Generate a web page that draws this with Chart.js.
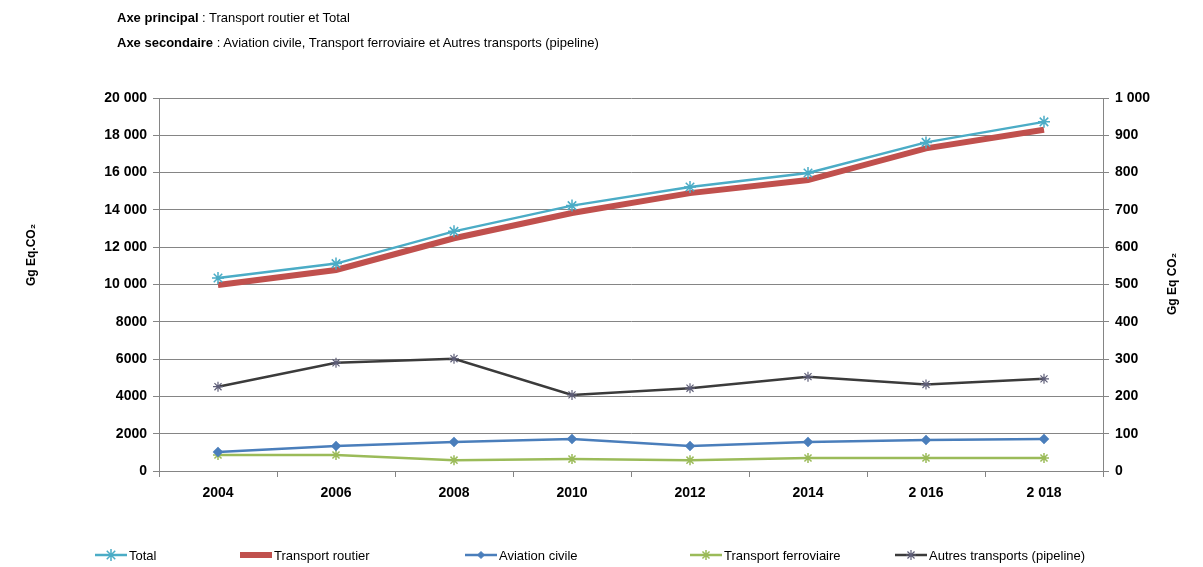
<!DOCTYPE html>
<html>
<head>
<meta charset="utf-8">
<script src="https://cdn.jsdelivr.net/npm/chart.js@4.4.1/dist/chart.umd.min.js"></script>
<style>
  body { margin: 0; background: #fff; font-family: "Liberation Sans", Arial, sans-serif; }
  #wrap { position: relative; width: 1203px; height: 567px; overflow: hidden; }
  #myChart { position: absolute; left: 0; top: 0; }
  .hdr { position: absolute; left: 117px; font-size: 13px; color: #000; white-space: nowrap; }
  .hdr b { display: inline-block; }
  .axTitle { position: absolute; font-size: 12px; font-weight: bold; color: #000; white-space: nowrap;
             transform: translate(-50%, -50%) rotate(-90deg); }
  .leg { position: absolute; top: 547px; height: 16px; font-size: 13px; color: #000; white-space: nowrap;
         display: flex; align-items: center; }
  .leg canvas { margin-right: 2px; }
</style>
</head>
<body>
<div id="wrap">
  <canvas id="myChart" width="1203" height="567"></canvas>
  <div class="hdr" style="top:10px"><b style="width:85px">Axe principal</b>: Transport routier et Total</div>
  <div class="hdr" style="top:35px"><b>Axe secondaire</b> : Aviation civile, Transport ferroviaire et Autres transports (pipeline)</div>
  <div class="axTitle" style="left:31px; top:255px">Gg Eq.CO₂</div>
  <div class="axTitle" style="left:1172px; top:284px">Gg Eq CO₂</div>
  <div id="legend"></div>
</div>

<script>
// ---------- donnees ----------
const years = ["2004", "2006", "2008", "2010", "2012", "2014", "2 016", "2 018"];

// axe principal
const total = [10350, 11120, 12850, 14230, 15230, 15980, 17620, 18720];
const routier = [9970, 10780, 12480, 13830, 14900, 15600, 17300, 18300];

// axe secondaire
const aviation = [51, 67, 78, 86, 67, 78, 83, 86];
const ferroviaire = [43, 43, 29, 32, 29, 35, 35, 35];
const autres = [226, 290, 301, 204, 222, 253, 232, 247];

const leftTicksMax = 20000;
const rightTicksMax = 1000;

// position horizontale des entrees de legende
const legendLeft = [95, 240, 465, 690, 895];

const gridColor = "#858585";
const fontFam = '"Liberation Sans", Arial, sans-serif';

// format francais avec espace pour les milliers
function fmt(v, minSpace) {
  if (v >= minSpace) {
    return String(v).replace(/\B(?=(\d{3})+(?!\d))/g, " ");
  }
  return String(v);
}

const ctx = document.getElementById("myChart").getContext("2d");

const myChart = new Chart(ctx, {
  type: "line",
  data: {
    labels: years,
    datasets: [
      {
        label: "Total",
        data: total,
        yAxisID: "y",
        borderColor: "#4bacc6",
        backgroundColor: "#4bacc6",
        borderWidth: 2.5,
        pointStyle: "star",
        pointRadius: 6,
        pointBorderWidth: 1.5,
        tension: 0,
      },
      {
        label: "Transport routier",
        data: routier,
        yAxisID: "y",
        borderColor: "#c0504d",
        backgroundColor: "#c0504d",
        borderWidth: 6,
        pointRadius: 0,
        tension: 0,
      },
      {
        label: "Aviation civile",
        data: aviation,
        yAxisID: "y1",
        borderColor: "#4a7ebb",
        backgroundColor: "#4a7ebb",
        borderWidth: 2.5,
        pointStyle: "rectRot",
        pointRadius: 3.5,
        tension: 0,
      },
      {
        label: "Transport ferroviaire",
        data: ferroviaire,
        yAxisID: "y1",
        borderColor: "#9bbb59",
        backgroundColor: "#9bbb59",
        borderWidth: 2.5,
        pointStyle: "star",
        pointRadius: 5,
        pointBorderWidth: 1.5,
        tension: 0,
      },
      {
        label: "Autres transports (pipeline)",
        data: autres,
        yAxisID: "y1",
        borderColor: "#3b3b3b",
        backgroundColor: "#3b3b3b",
        pointBorderColor: "#5e5e78",
        borderWidth: 2.5,
        pointStyle: "star",
        pointRadius: 5,
        pointBorderWidth: 1.2,
        tension: 0,
      },
    ],
  },
  options: {
    responsive: false,
    animation: false,
    layout: { padding: { top: 98, left: 0, right: 0, bottom: 54 } },
    plugins: {
      tooltip: { enabled: false },
      legend: { display: false },
    },
    scales: {
      x: {
        offset: true,
        grid: { offset: true, drawOnChartArea: false, tickLength: 6, color: gridColor },
        border: { color: gridColor, width: 1 },
        ticks: { color: "#000", font: { family: fontFam, size: 14, weight: "bold" }, padding: 8, maxRotation: 0 },
        afterFit: (s) => { s.height = 42; },
      },
      y: {
        position: "left",
        min: 0,
        max: leftTicksMax,
        ticks: {
          stepSize: 2000,
          color: "#000",
          padding: 6,
          font: { family: fontFam, size: 14, weight: "bold" },
          callback: (v) => fmt(v, 10000),
        },
        grid: { color: gridColor, tickLength: 6, lineWidth: 1 },
        border: { color: gridColor, width: 1 },
        afterFit: (s) => { s.width = 159; },
      },
      y1: {
        position: "right",
        min: 0,
        max: rightTicksMax,
        ticks: {
          stepSize: 100,
          color: "#000",
          padding: 6,
          font: { family: fontFam, size: 14, weight: "bold" },
          callback: (v) => fmt(v, 1000),
        },
        grid: { drawOnChartArea: false, color: gridColor, tickLength: 6 },
        border: { color: gridColor, width: 1 },
        afterFit: (s) => { s.width = 100; },
      },
    },
  },
});

// ---------- legende en HTML, avec trait + marqueur ----------
const legendBox = document.getElementById("legend");
myChart.data.datasets.forEach((ds, i) => {
  const item = document.createElement("div");
  item.className = "leg";
  item.style.left = legendLeft[i] + "px";

  const sw = document.createElement("canvas");
  sw.width = 32;
  sw.height = 14;
  const c = sw.getContext("2d");
  c.strokeStyle = ds.borderColor;
  c.lineWidth = ds.borderWidth;
  c.beginPath();
  c.moveTo(0, 7);
  c.lineTo(32, 7);
  c.stroke();
  if (ds.pointRadius > 0) {
    c.strokeStyle = ds.pointBorderColor || ds.borderColor;
    c.fillStyle = ds.backgroundColor;
    c.lineWidth = ds.pointBorderWidth || 1;
    Chart.helpers.drawPoint(c, { pointStyle: ds.pointStyle, radius: ds.pointRadius, rotation: 0, borderWidth: c.lineWidth }, 16, 7);
  }
  item.appendChild(sw);

  const txt = document.createElement("span");
  txt.textContent = ds.label;
  item.appendChild(txt);
  legendBox.appendChild(item);
});
</script>
</body>
</html>
